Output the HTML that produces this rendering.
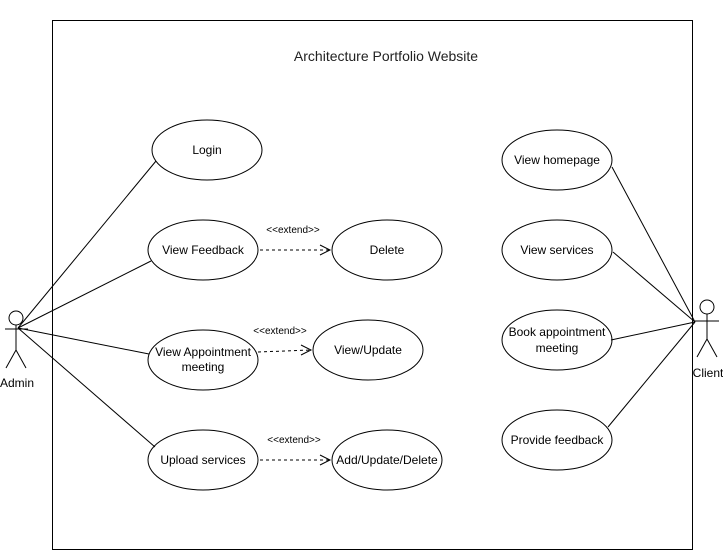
<!DOCTYPE html>
<html><head><style>body{margin:0;background:#fff}svg{display:block}text{font-family:"Liberation Sans",sans-serif;font-size:12px;fill:#000}</style></head><body>
<svg width="723" height="551" viewBox="0 0 723 551">
<rect width="723" height="551" fill="#fff"/>
<rect x="52.5" y="20.5" width="640" height="529" fill="none" stroke="#000"/>
<text x="386" y="61" text-anchor="middle" style="font-size:14px;fill:#222">Architecture Portfolio Website</text>
<g fill="#fff" stroke="#000">
<ellipse cx="207" cy="150" rx="55" ry="30"/>
<ellipse cx="203" cy="250" rx="55" ry="30"/>
<ellipse cx="387" cy="250" rx="55" ry="30"/>
<ellipse cx="203" cy="360" rx="55" ry="30"/>
<ellipse cx="368" cy="350" rx="55" ry="30"/>
<ellipse cx="203" cy="460" rx="55" ry="30"/>
<ellipse cx="387" cy="460" rx="55" ry="30"/>
<ellipse cx="557" cy="160" rx="55" ry="30"/>
<ellipse cx="557" cy="250" rx="55" ry="30"/>
<ellipse cx="557" cy="340" rx="55" ry="30"/>
<ellipse cx="557" cy="440" rx="55" ry="30"/>
</g>
<g stroke="#000" fill="none">
<line x1="18" y1="328" x2="156" y2="161"/>
<line x1="18" y1="328" x2="151" y2="261"/>
<line x1="18" y1="328" x2="149" y2="354"/>
<line x1="18" y1="328" x2="155" y2="447"/>
<line x1="695" y1="322" x2="612" y2="167"/>
<line x1="695" y1="322" x2="613" y2="252"/>
<line x1="695" y1="322" x2="611" y2="340"/>
<line x1="695" y1="322" x2="608" y2="427"/>
<g stroke-dasharray="3,3">
<line x1="260" y1="250" x2="330" y2="250"/>
<line x1="258" y1="352" x2="311" y2="350"/>
<line x1="260" y1="460" x2="330" y2="460"/>
</g>
<polyline points="320,245 330,250 320,255"/>
<polyline points="301,345 311,350 301,355"/>
<polyline points="320,455 330,460 320,465"/>
<circle cx="16" cy="318" r="7"/>
<line x1="16" y1="325" x2="16" y2="350"/><line x1="5" y1="329" x2="28" y2="329"/>
<line x1="16" y1="350" x2="6" y2="368"/><line x1="16" y1="350" x2="26" y2="368"/>
<circle cx="707" cy="307" r="7"/>
<line x1="707" y1="314" x2="707" y2="339"/><line x1="695" y1="321" x2="719" y2="321"/>
<line x1="707" y1="339" x2="697" y2="357"/><line x1="707" y1="339" x2="717" y2="357"/>
</g>
<g text-anchor="middle">
<text x="207" y="154">Login</text>
<text x="203" y="254">View Feedback</text>
<text x="387" y="254">Delete</text>
<text x="203" y="356">View Appointment</text>
<text x="203" y="371">meeting</text>
<text x="368" y="354">View/Update</text>
<text x="203" y="464">Upload services</text>
<text x="387" y="464">Add/Update/Delete</text>
<text x="557" y="164">View homepage</text>
<text x="557" y="254">View services</text>
<text x="557" y="336">Book appointment</text>
<text x="557" y="352">meeting</text>
<text x="557" y="444">Provide feedback</text>
<text x="293" y="233" style="font-size:10px">&lt;&lt;extend&gt;&gt;</text>
<text x="280" y="334" style="font-size:10px">&lt;&lt;extend&gt;&gt;</text>
<text x="294" y="443" style="font-size:10px">&lt;&lt;extend&gt;&gt;</text>
<text x="17" y="387">Admin</text>
<text x="708" y="377">Client</text>
</g>
</svg>
</body></html>
